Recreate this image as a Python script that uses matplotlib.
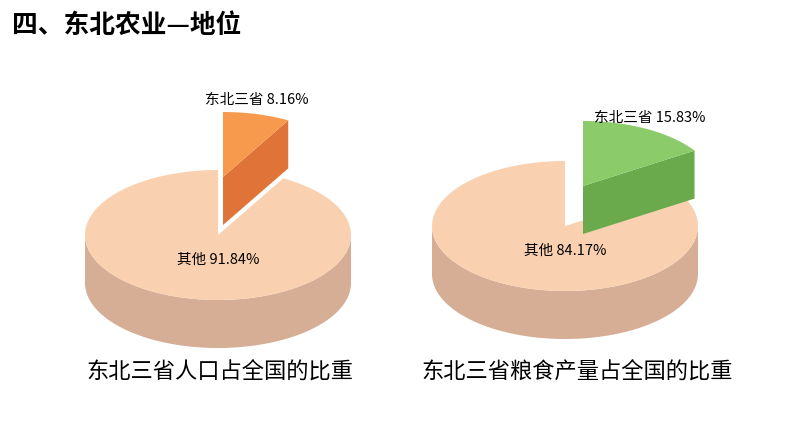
import numpy as np
import matplotlib
matplotlib.use("Agg")
import matplotlib.pyplot as plt
from matplotlib.patches import Polygon

plt.rcParams['font.family'] = ['Noto Sans CJK SC', 'DejaVu Sans']

title = "四、东北农业—地位"
captions = ["东北三省人口占全国的比重", "东北三省粮食产量占全国的比重"]
slice_names = ["东北三省", "其他"]
values = [[8.16, 91.84], [15.83, 84.17]]
slice_colors = [("#F79A4E", "#E07438"), ("#8CCB69", "#6AAA4C")]
main_top, main_side = "#F9D0B0", "#D5AE95"

fig = plt.figure(figsize=(7.94, 4.47), dpi=100)
ax = fig.add_axes([0, 0, 1, 1])
ax.set_xlim(0, 794); ax.set_ylim(447, 0); ax.axis('off')

rx, ry, depth = 133, 65, 48
geo = [dict(cx=218, cy=235, sdx=5, sdy=-58, lab=(257, 100), cap=(220, 372)),
       dict(cx=565, cy=226, sdx=18, sdy=-40, lab=(650, 118), cap=(577, 372))]

def pt(cx, cy, t):
    r = np.radians(t)
    return cx + rx*np.cos(r), cy - ry*np.sin(r)

def arc(cx, cy, a, b, n=120):
    ts = np.linspace(a, b, n)
    return [pt(cx, cy, t) for t in ts]

for g, v, (sc_top, sc_dark), cap in zip(geo, values, slice_colors, captions):
    cx, cy = g['cx'], g['cy']
    p = v[0] / 100.0
    a1 = 90 - 360*p
    top = arc(cx, cy, 180, 360)
    bot = [(x, y+depth) for x, y in top[::-1]]
    ax.add_patch(Polygon(top+bot, closed=True, fc=main_side, ec='none'))
    poly = [(cx, cy)] + arc(cx, cy, 90, a1+360)
    ax.add_patch(Polygon(poly, closed=True, fc=main_top, ec='none'))
    scx = cx + g['sdx']
    scy = cy + g['sdy']
    e = pt(scx, scy, a1)
    face = [(scx, scy), e, (e[0], e[1]+depth), (scx, scy+depth)]
    ax.add_patch(Polygon(face, closed=True, fc=sc_dark, ec='none'))
    ax.add_patch(Polygon([(scx, scy)] + arc(scx, scy, a1, 90), closed=True, fc=sc_top, ec='none'))
    ax.text(g['lab'][0], g['lab'][1], f"{slice_names[0]} {v[0]:.2f}%", fontsize=10.5, ha='center', va='center')
    ax.text(cx, cy+25, f"{slice_names[1]} {v[1]:.2f}%", fontsize=10.5, ha='center', va='center')
    ax.text(g['cap'][0], g['cap'][1], cap, fontsize=16, ha='center', va='center')

ax.text(12, 25, title, fontsize=18.5, fontweight='bold', ha='left', va='center')
fig.savefig("out.png", dpi=100)
